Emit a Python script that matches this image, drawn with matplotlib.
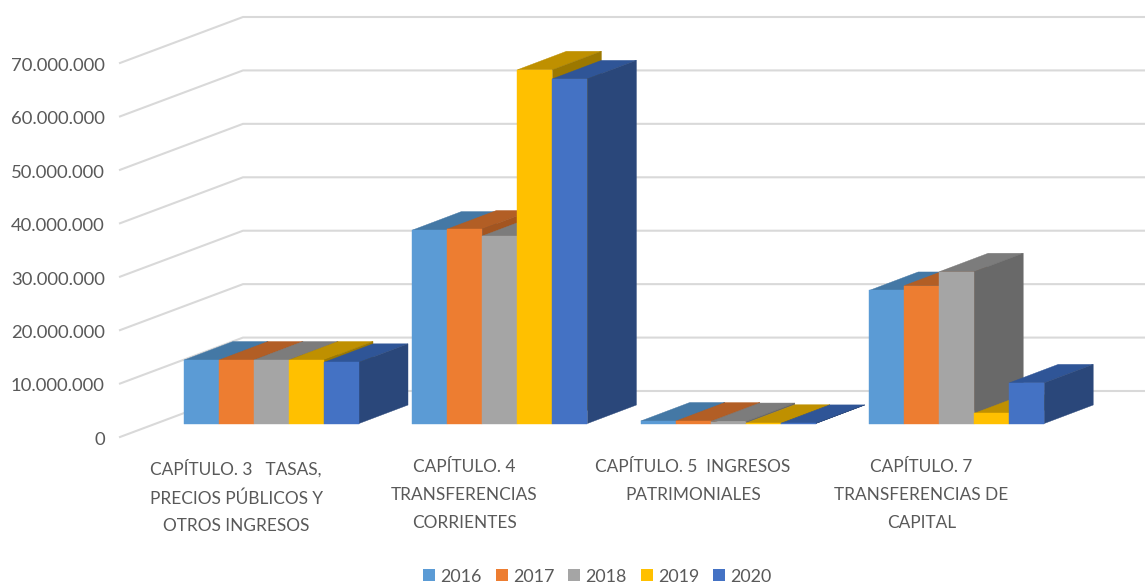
import matplotlib.pyplot as plt
from matplotlib.patches import Patch, Polygon
from matplotlib.ticker import FuncFormatter
from matplotlib.transforms import ScaledTranslation

# DATA
categorias = [
    "CAPÍTULO. 3   TASAS,\nPRECIOS PÚBLICOS Y\nOTROS INGRESOS",
    "CAPÍTULO. 4\nTRANSFERENCIAS\nCORRIENTES",
    "CAPÍTULO. 5  INGRESOS\nPATRIMONIALES",
    "CAPÍTULO. 7\nTRANSFERENCIAS DE\nCAPITAL",
]
anios = ["2016", "2017", "2018", "2019", "2020"]
v2016 = [11880000, 36200000, 470000, 24900000]
v2017 = [11880000, 36400000, 450000, 25800000]
v2018 = [11880000, 35100000, 370000, 28400000]
v2019 = [11880000, 66200000, 50000, 1900000]
v2020 = [11450000, 64500000, 20000, 7600000]
series = [v2016, v2017, v2018, v2019, v2020]
ticks_y = [0, 10000000, 20000000, 30000000, 40000000, 50000000, 60000000, 70000000]

# colores: frente, tapa y lateral de cada serie
frente = ["#5B9BD5", "#ED7D31", "#A5A5A5", "#FFC000", "#4472C4"]
tapa = ["#4478A5", "#B25E25", "#7C7C7C", "#BF9000", "#2F5597"]
lateral = ["#3B6A94", "#A35520", "#696969", "#9C7800", "#2A477A"]

plt.rcParams["font.family"] = ["Lato", "DejaVu Sans"]
gris = "#595959"

fig = plt.figure(figsize=(11.45, 5.86), dpi=100)
# axes from the front corner of the left wall (x=120, y=437) to the top right
ax = fig.add_axes([120 / 1145, (586 - 437) / 586, (1145 - 120) / 1145, (437 - 16) / 586])

# pixel size in data units
px_x = 1 / 228.4
px_y = 1e7 / 53.43
ax.set_xlim((120 - 236) * px_x, (1145 - 236) * px_x)
ax.set_ylim(0, 421 * px_y)

# wall and back gridlines
pared_x = 123 * px_x
pared_y = 46 * px_y
x0 = ax.get_xlim()[0]
x1 = ax.get_xlim()[1]
for v in ticks_y:
    ax.plot([x0, x0 + pared_x, x1], [v, v + pared_y, v + pared_y],
            color="#D9D9D9", lw=1.5, zorder=1, clip_on=False)

# bars as a front rectangle plus top and side faces
ancho = 35 * px_x
fondo_x = 49 * px_x
fondo_y = 18.5 * px_y
suelo_x = 35.5 * px_x
suelo_y = 13.5 * px_y

z = 2
for g in range(len(categorias)):
    izq = g + suelo_x - 2.5 * ancho
    for s in range(len(series)):
        v = series[s][g]
        a = izq + s * ancho
        b = a + ancho
        alto = suelo_y + v
        ax.add_patch(Polygon([(a, alto), (b, alto), (b + fondo_x, alto + fondo_y), (a + fondo_x, alto + fondo_y)],
                             closed=True, facecolor=tapa[s], edgecolor=tapa[s], lw=0.3, zorder=z))
        ax.add_patch(Polygon([(b, suelo_y), (b, alto), (b + fondo_x, alto + fondo_y), (b + fondo_x, suelo_y + fondo_y)],
                             closed=True, facecolor=lateral[s], edgecolor=lateral[s], lw=0.3, zorder=z))
        ax.bar(a, v, width=ancho, bottom=suelo_y, align="edge", color=frente[s], edgecolor=frente[s], lw=0.3, zorder=z)
        z += 1

# axes text
ax.set_yticks(ticks_y)
ax.yaxis.set_major_formatter(FuncFormatter(lambda v, p: f"{int(v):,}".replace(",", ".")))
ax.set_xticks(range(len(categorias)))
ax.set_xticklabels(categorias, linespacing=1.92, va="top")
ax.tick_params(axis="y", length=0, pad=11, labelsize=13.3, labelcolor=gris)
ax.tick_params(axis="x", length=0, pad=16, labelsize=12.4, labelcolor=gris)
# nudge the value labels down a little
for t in ax.get_yticklabels():
    t.set_transform(t.get_transform() + ScaledTranslation(0, -1 / 72, fig.dpi_scale_trans))
for lado in ax.spines.values():
    lado.set_visible(False)
ax.patch.set_alpha(0)

# legend
handles = [Patch(facecolor=frente[i], label=anios[i]) for i in range(len(anios))]
fig.legend(handles=handles, loc="center", bbox_to_anchor=(597.5 / 1145, (586 - 576.5) / 586), ncol=5,
           frameon=False, fontsize=12.9, labelcolor=gris, handlelength=0.67, handleheight=0.67,
           handletextpad=0.28, columnspacing=0.79, borderpad=0, borderaxespad=0)

plt.savefig("out.png", dpi=100)
